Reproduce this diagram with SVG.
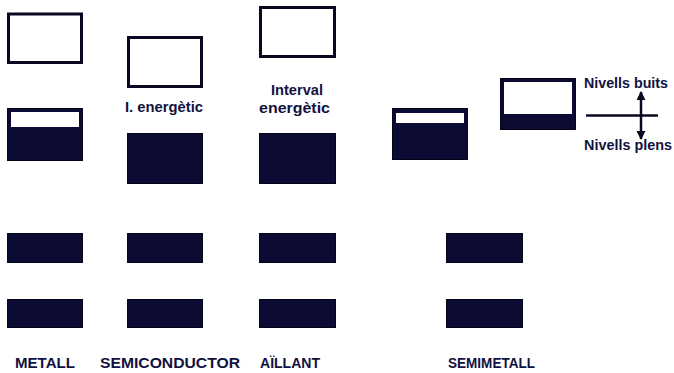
<svg xmlns="http://www.w3.org/2000/svg" width="674" height="373" viewBox="0 0 674 373">
<defs>
<style>
.empty{fill:#fff;stroke:#080820;stroke-width:3}
.full{fill:#0b0b33;stroke:#05051a;stroke-width:1}
.t{font-family:"Liberation Sans",Arial,sans-serif;font-size:15px;font-weight:bold;fill:#12123f}
.c{text-anchor:middle}
</style>
<marker id="ah" viewBox="0 0 10 10" refX="9" refY="5" markerWidth="3.6" markerHeight="3.6" orient="auto-start-reverse">
<path d="M0,0 L10,5 L0,10 z" fill="#080820"/>
</marker>
</defs>
<rect width="674" height="373" fill="#fff"/>
<g id="metall">
<rect class="empty" x="8.5" y="14" width="73" height="48.5"/>
<rect class="full" x="7.5" y="108.5" width="75" height="52"/>
<rect x="11" y="112" width="68" height="15" fill="#fff"/>
<rect class="full" x="7.5" y="233.5" width="75" height="29"/>
<rect class="full" x="7.5" y="299.5" width="75" height="28"/>
<text class="t" x="15" y="368" textLength="60" lengthAdjust="spacingAndGlyphs">METALL</text>
</g>
<g id="semiconductor">
<rect class="empty" x="128.5" y="37.5" width="73" height="49"/>
<text class="t" x="125" y="111.5" textLength="78" lengthAdjust="spacingAndGlyphs">I. energètic</text>
<rect class="full" x="127.5" y="133.5" width="75" height="50"/>
<rect class="full" x="127.5" y="233.5" width="75" height="29"/>
<rect class="full" x="127.5" y="299.5" width="75" height="28"/>
<text class="t" x="100" y="368" textLength="140" lengthAdjust="spacingAndGlyphs">SEMICONDUCTOR</text>
</g>
<g id="aillant">
<rect class="empty" x="260.5" y="7.5" width="74" height="49"/>
<text class="t" x="271" y="95" textLength="52" lengthAdjust="spacingAndGlyphs">Interval</text>
<text class="t" x="259" y="113" textLength="71" lengthAdjust="spacingAndGlyphs">energètic</text>
<rect class="full" x="259.5" y="133.5" width="76" height="50"/>
<rect class="full" x="259.5" y="233.5" width="76" height="29"/>
<rect class="full" x="259.5" y="299.5" width="76" height="28"/>
<text class="t" x="260" y="368" textLength="60" lengthAdjust="spacingAndGlyphs">AÏLLANT</text>
</g>
<g id="semimetall">
<rect class="full" x="392.5" y="108.5" width="75" height="51"/>
<rect x="396" y="113" width="68" height="10" fill="#fff"/>
<rect class="full" x="446.5" y="233.5" width="76" height="29"/>
<rect class="full" x="446.5" y="299.5" width="76" height="28"/>
<text class="t" x="448" y="368" textLength="87" lengthAdjust="spacingAndGlyphs">SEMIMETALL</text>
</g>
<g id="legend-box">
<rect class="full" x="500.5" y="78.5" width="75" height="51"/>
<rect x="504" y="82" width="68" height="32" fill="#fff"/>
</g>
<g id="legend-text">
<text class="t" x="584" y="88" textLength="84" lengthAdjust="spacingAndGlyphs">Nivells buits</text>
<text class="t" x="584" y="150" textLength="88" lengthAdjust="spacingAndGlyphs">Nivells plens</text>
</g>
<g id="connectors">
<line x1="586" y1="115.5" x2="658" y2="115.5" stroke="#080820" stroke-width="2.5"/>
<line x1="641" y1="92" x2="641" y2="139" stroke="#080820" stroke-width="2.5" marker-start="url(#ah)" marker-end="url(#ah)"/>
</g>
</svg>
